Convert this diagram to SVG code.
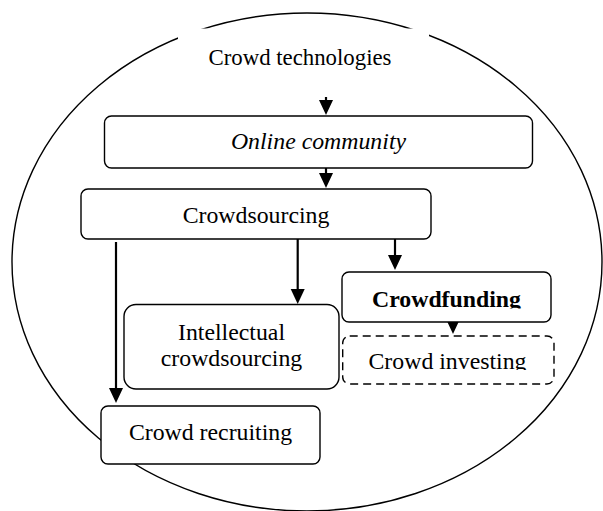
<svg xmlns="http://www.w3.org/2000/svg" width="603" height="511" viewBox="0 0 603 511">
<style>
text{font-family:"Liberation Serif","Times New Roman",serif;font-size:23.8px;fill:#000;text-anchor:middle}
.box{fill:#fff;stroke:#000;stroke-width:1.4}
.dash{fill:#fff;stroke:#000;stroke-width:1.4;stroke-dasharray:8 5}
.arr{stroke:#000;stroke-width:2.2;fill:none;marker-end:url(#ah)}
</style>
<defs>
<marker id="ah" markerUnits="userSpaceOnUse" markerWidth="16" markerHeight="15" refX="2" refY="7" orient="auto" overflow="visible">
<path d="M0,0 L15,7 L0,14 Z" fill="#000"/>
</marker>
<clipPath id="cf"><rect x="342" y="272" width="209" height="36.5"/></clipPath>
<clipPath id="ci"><rect x="343" y="336" width="211" height="34"/></clipPath>
</defs>
<g id="boundary">
<ellipse cx="307" cy="262" rx="295" ry="249" fill="none" stroke="#000" stroke-width="1.4"/>
<rect x="178" y="28.5" width="251" height="60" fill="#fff"/>
<text x="300" y="65" style="font-size:22.8px">Crowd technologies</text>
</g>
<g id="connectors">
<line class="arr" x1="326" y1="97" x2="326" y2="102"/>
<line class="arr" x1="326" y1="168" x2="326" y2="175"/>
<line class="arr" x1="116" y1="242" x2="116" y2="390"/>
<line class="arr" x1="297.7" y1="239" x2="297.7" y2="291"/>
<line class="arr" x1="395" y1="239" x2="395" y2="257"/>
<line class="arr" x1="453" y1="320" x2="453" y2="321"/>
</g>
<g id="online-community">
<rect class="box" x="104.5" y="116" width="428" height="52" rx="7"/>
<text x="318.5" y="149" font-style="italic">Online community</text>
</g>
<g id="crowdsourcing">
<rect class="box" x="81" y="189" width="350" height="50" rx="7"/>
<text x="256" y="223">Crowdsourcing</text>
</g>
<g id="crowdfunding">
<rect class="box" x="342" y="272" width="209" height="50" rx="7"/>
<text x="446.5" y="307" font-weight="bold" clip-path="url(#cf)">Crowdfunding</text>
</g>
<g id="crowd-investing">
<rect class="dash" x="342.7" y="336" width="211.3" height="48" rx="7"/>
<text x="447.5" y="368.5" clip-path="url(#ci)">Crowd investing</text>
</g>
<g id="intellectual-crowdsourcing">
<rect class="box" x="124" y="304.5" width="215" height="84.5" rx="12"/>
<text x="231.5" y="340">Intellectual</text>
<text x="231.5" y="366">crowdsourcing</text>
</g>
<g id="crowd-recruiting">
<rect class="box" x="101" y="406" width="219" height="58" rx="7"/>
<text x="210.5" y="440">Crowd recruiting</text>
</g>
</svg>
